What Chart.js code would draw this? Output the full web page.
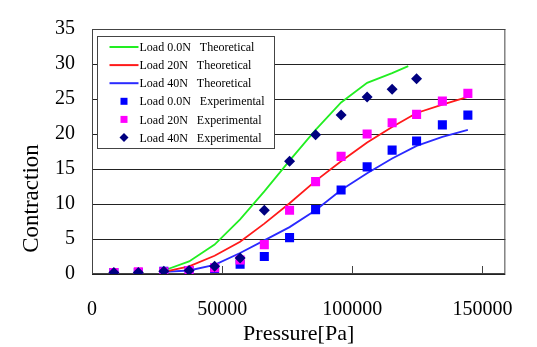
<!DOCTYPE html>
<html>
<head>
<meta charset="utf-8">
<script src="https://cdn.jsdelivr.net/npm/chart.js@4.4.1/dist/chart.umd.min.js"></script>
<style>
  html, body { margin: 0; padding: 0; background: #fff; }
</style>
</head>
<body>
<canvas id="chart" width="537" height="347"></canvas>
<script>
// measured pressures [Pa] and contraction for each load
const pressureExp = [8400, 17800, 27600, 37300, 47100, 56900, 66200, 75900, 85900, 95700, 105700, 115300, 124700, 134600, 144400];
const exp00N = [0.2, 0.2, 0.4, 0.5, 0.8, 1.4, 2.5, 5.2, 9.2, 12.0, 15.3, 17.7, 19.0, 21.3, 22.7];
const exp20N = [0.2, 0.3, 0.3, 0.5, 0.9, 2.0, 4.2, 9.1, 13.2, 16.8, 20.0, 21.6, 22.8, 24.7, 25.8];
const exp40N = [0.2, 0.2, 0.4, 0.5, 1.1, 2.3, 9.1, 16.1, 19.9, 22.7, 25.3, 26.4, 27.9];

// model curves
const pressureTheo00N = [27600, 37300, 47100, 56900, 66200, 75900, 85900, 95700, 105700, 115300, 121500];
const theo00N = [0.5, 1.8, 4.2, 7.8, 11.8, 16.2, 20.6, 24.5, 27.3, 28.7, 29.7];
const pressureTheo = [27600, 37300, 47100, 56900, 66200, 75900, 85900, 95700, 105700, 115300, 124700, 134600, 144400];
const theo20N = [0.3, 1.1, 2.6, 4.6, 7.2, 10.1, 13.3, 16.1, 18.8, 21.0, 23.0, 24.2, 25.3];
const theo40N = [0.3, 0.5, 1.3, 3.0, 4.8, 6.7, 9.1, 12.0, 14.4, 16.5, 18.3, 19.6, 20.6];

const xTicks = [0, 50000, 100000, 150000];
const yTicks = [0, 5, 10, 15, 20, 25, 30, 35];

const serif = 'Liberation Serif';

function toXY(xs, ys) {
  return ys.map((y, i) => ({ x: xs[i], y: y }));
}

// frame, inward tick marks, y title and the boxed legend
const decorations = {
  id: 'decorations',
  beforeDatasetsDraw(chart) {
    const { ctx, chartArea: a, scales } = chart;
    ctx.save();
    ctx.strokeStyle = '#444';
    ctx.lineWidth = 1;
    ctx.strokeRect(a.left + 0.5, a.top + 0.5, a.right - a.left - 1, a.bottom - a.top - 1);
    ctx.beginPath();
    xTicks.forEach(v => {
      const px = Math.round(scales.x.getPixelForValue(v)) + 0.5;
      ctx.moveTo(px, a.bottom);
      ctx.lineTo(px, a.bottom - 8);
    });
    ctx.stroke();

    ctx.translate(38, (a.top + a.bottom) / 2 + 47);
    ctx.rotate(-Math.PI / 2);
    ctx.fillStyle = '#000';
    ctx.font = '23px "' + serif + '"';
    ctx.textAlign = 'center';
    ctx.textBaseline = 'alphabetic';
    ctx.fillText('Contraction', 0, 0);
    ctx.restore();
  },
  afterDraw(chart) {
    const { ctx, chartArea: a } = chart;
    const sets = chart.data.datasets;
    const order = [3, 4, 5, 2, 1, 0];
    const bx = a.left + 5.5, by = a.top + 7.5, bw = 177, bh = 112;
    ctx.save();
    ctx.fillStyle = '#fff';
    ctx.fillRect(bx, by, bw, bh);
    ctx.strokeStyle = '#444';
    ctx.lineWidth = 1;
    ctx.strokeRect(bx, by, bw, bh);
    ctx.font = '12px "' + serif + '"';
    ctx.textBaseline = 'middle';
    order.forEach((idx, row) => {
      const ds = sets[idx];
      const y = by + 10.5 + row * 18.1;
      const x0 = bx + 12, x1 = bx + 41;
      if (ds.showLine) {
        ctx.strokeStyle = ds.borderColor;
        ctx.lineWidth = 2;
        ctx.beginPath();
        ctx.moveTo(x0, y);
        ctx.lineTo(x1, y);
        ctx.stroke();
      } else {
        ctx.fillStyle = ds.backgroundColor;
        ctx.beginPath();
        const r = ds.pointStyle === 'rectRot' ? 4.5 : 3.5;
        const cx = (x0 + x1) / 2;
        if (ds.pointStyle === 'rectRot') {
          ctx.moveTo(cx, y - r); ctx.lineTo(cx + r, y); ctx.lineTo(cx, y + r); ctx.lineTo(cx - r, y);
        } else {
          ctx.rect(cx - r, y - r, 2 * r, 2 * r);
        }
        ctx.closePath();
        ctx.fill();
      }
      ctx.fillStyle = '#000';
      ctx.fillText(ds.label, x1 + 1, y + 1);
    });
    ctx.restore();
  }
};

new Chart(document.getElementById('chart'), {
  type: 'scatter',
  data: {
    datasets: [
      {
        label: 'Load 40N   Experimental',
        data: toXY(pressureExp, exp40N),
        pointStyle: 'rectRot',
        pointRadius: 5.5,
        backgroundColor: '#000080',
        borderColor: '#000080',
        borderWidth: 0
      },
      {
        label: 'Load 20N   Experimental',
        data: toXY(pressureExp, exp20N),
        pointStyle: 'rect',
        pointRadius: 6.4,
        backgroundColor: '#ff00ff',
        borderColor: '#ff00ff',
        borderWidth: 0
      },
      {
        label: 'Load 0.0N   Experimental',
        data: toXY(pressureExp, exp00N),
        pointStyle: 'rect',
        pointRadius: 6.4,
        backgroundColor: '#0000ff',
        borderColor: '#0000ff',
        borderWidth: 0
      },
      {
        label: 'Load 0.0N   Theoretical',
        data: toXY(pressureTheo00N, theo00N),
        showLine: true,
        pointRadius: 0,
        borderColor: '#22ee22',
        borderWidth: 1.8,
        tension: 0
      },
      {
        label: 'Load 20N   Theoretical',
        data: toXY(pressureTheo, theo20N),
        showLine: true,
        pointRadius: 0,
        borderColor: '#ff1a1a',
        borderWidth: 1.8,
        tension: 0
      },
      {
        label: 'Load 40N   Theoretical',
        data: toXY(pressureTheo, theo40N),
        showLine: true,
        pointRadius: 0,
        borderColor: '#2a2aff',
        borderWidth: 1.8,
        tension: 0
      }
    ]
  },
  options: {
    responsive: false,
    animation: false,
    devicePixelRatio: 1,
    layout: { padding: { top: 17, right: 10, left: 0, bottom: 0 } },
    plugins: {
      legend: { display: false },
      tooltip: { enabled: false }
    },
    scales: {
      x: {
        type: 'linear',
        min: 0,
        max: 158800,
        afterBuildTicks: s => { s.ticks = xTicks.map(v => ({ value: v })); },
        afterFit: s => { s.height = 73; },
        grid: { display: false, drawTicks: false },
        border: { display: false },
        ticks: {
          padding: 24,
          color: '#000',
          font: { family: serif, size: 20 },
          maxRotation: 0,
          callback: v => String(v)
        },
        title: {
          display: true,
          text: 'Pressure[Pa]',
          color: '#000',
          font: { family: serif, size: 22 },
          padding: { top: 0, bottom: 0 }
        }
      },
      y: {
        min: 0,
        max: 35,
        afterBuildTicks: s => { s.ticks = yTicks.map(v => ({ value: v })); },
        afterFit: s => { s.width = 92; },
        grid: { color: '#222', lineWidth: 1, drawTicks: false },
        border: { display: false },
        ticks: {
          padding: 17,
          color: '#000',
          font: { family: serif, size: 20 }
        }
      }
    }
  },
  plugins: [decorations]
});
</script>
</body>
</html>
